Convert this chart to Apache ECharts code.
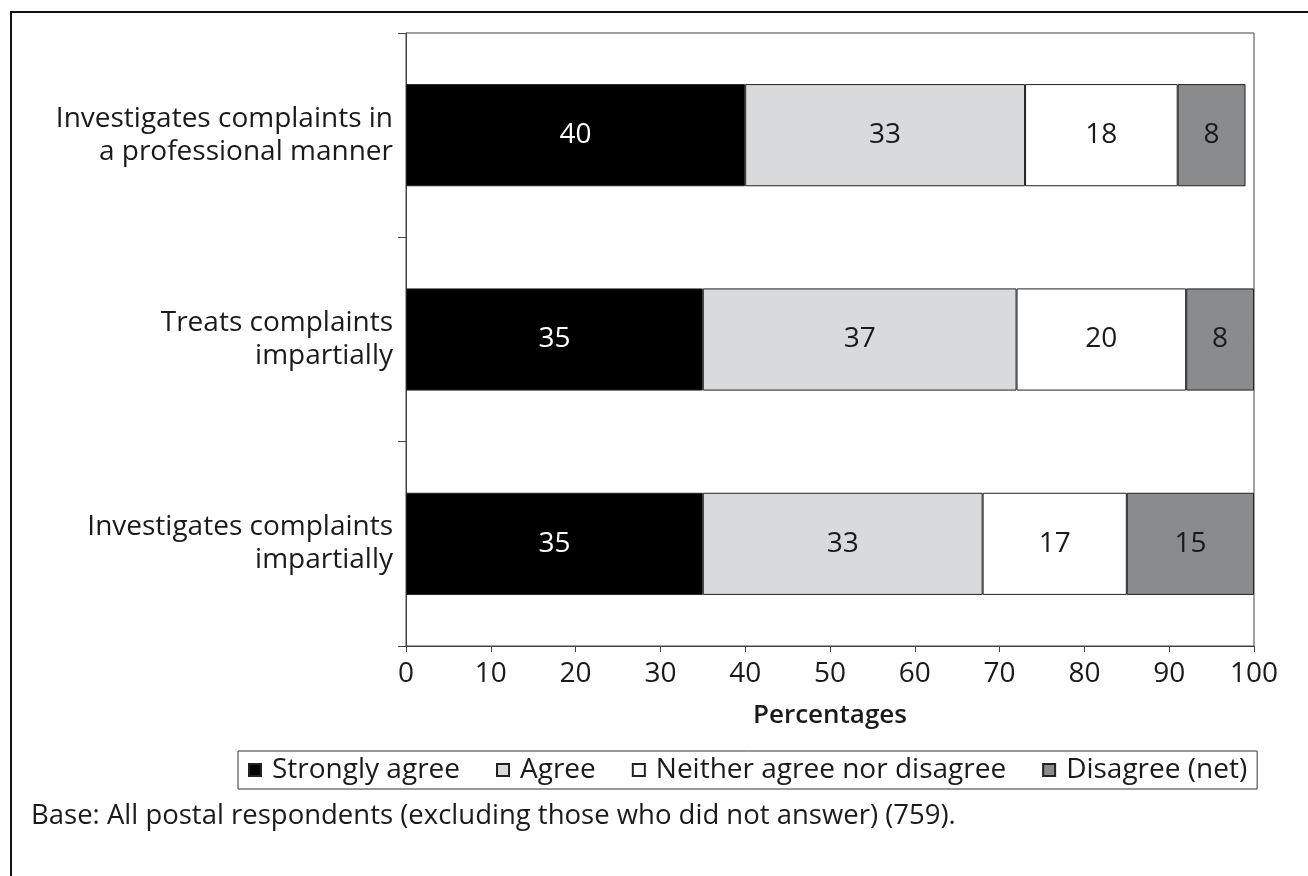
<!DOCTYPE html>
<html>
<head>
<meta charset="utf-8">
<script src="https://cdn.jsdelivr.net/npm/echarts@6/dist/echarts.min.js"></script>
<style>
  html, body { margin: 0; padding: 0; background: #fff; }
  #chart { width: 1308px; height: 876px; }
</style>
</head>
<body>
<div id="chart"></div>
<script>
// Survey statements (top to bottom)
const categories = [
  'Investigates complaints in\na professional manner',
  'Treats complaints\nimpartially',
  'Investigates complaints\nimpartially'
];
const seriesNames = ['Strongly agree', 'Agree', 'Neither agree nor disagree', 'Disagree (net)'];
const stronglyAgree = [40, 35, 35];
const agree = [33, 37, 33];
const neither = [18, 20, 17];
const disagree = [8, 8, 15];
const xTicks = [0, 10, 20, 30, 40, 50, 60, 70, 80, 90, 100];
const footnote = 'Base: All postal respondents (excluding those who did not answer) (759).';

const FONT = '"Open Sans", "Noto Sans", sans-serif';
const TEXT = '#1a1a1a';
const FS = 28;
const fills = ['#000000', '#d9dadc', '#ffffff', '#8a8b8c'];
const labelColors = ['#ffffff', TEXT, TEXT, TEXT];
const values = [stronglyAgree, agree, neither, disagree];

const chart = echarts.init(document.getElementById('chart'), null, { renderer: 'canvas' });

chart.setOption({
  animation: false,
  backgroundColor: '#ffffff',
  textStyle: { fontFamily: FONT },
  grid: {
    left: 406, right: 54, top: 33, bottom: 230,
    show: true, borderColor: '#444', borderWidth: 1, containLabel: false
  },
  legend: {
    data: seriesNames,
    left: 238, top: 751,
    orient: 'horizontal',
    icon: 'rect',
    itemWidth: 12, itemHeight: 12,
    itemGap: 36,
    padding: [0, 10, 0, 10],
    borderColor: '#333', borderWidth: 1,
    textStyle: { fontFamily: FONT, fontSize: FS, color: TEXT, lineHeight: 38, padding: [0, 0, 0, 6] },
    selectedMode: false
  },
  xAxis: {
    type: 'value',
    min: 0, max: 100, interval: 10,
    name: 'Percentages',
    nameLocation: 'middle',
    nameGap: 57,
    nameTextStyle: { fontFamily: FONT, fontSize: 26, color: TEXT, fontWeight: 600 },
    axisLine: { show: true, lineStyle: { color: '#444', width: 1 } },
    axisTick: { show: true, length: 6, lineStyle: { color: '#444' } },
    axisLabel: {
      fontFamily: FONT, fontSize: FS, color: TEXT, margin: 14,
      formatter: v => (xTicks.includes(v) ? String(v) : '')
    },
    splitLine: { show: false }
  },
  yAxis: {
    type: 'category',
    data: categories,
    inverse: true,
    axisLine: { show: true, lineStyle: { color: '#444', width: 1 } },
    axisTick: { show: true, length: 8, lineStyle: { color: '#444' } },
    axisLabel: {
      fontFamily: FONT, fontSize: FS, color: TEXT, margin: 13,
      lineHeight: 33, align: 'right'
    },
    splitLine: { show: false }
  },
  series: seriesNames.map((name, i) => ({
    name,
    type: 'bar',
    stack: 'total',
    barWidth: '50%',
    data: values[i],
    itemStyle: { color: fills[i], borderColor: '#222', borderWidth: 1 },
    label: {
      show: true,
      position: 'inside',
      fontFamily: FONT,
      fontSize: FS,
      color: labelColors[i],
      formatter: p => String(p.value)
    },
    emphasis: { disabled: true }
  })),
  graphic: [
    {
      type: 'polyline',
      shape: { points: [[11, 876], [11, 12], [1308, 12]] },
      style: { stroke: '#111', lineWidth: 2, fill: null },
      silent: true
    },
    {
      type: 'text',
      left: 31, top: 802,
      style: { text: footnote, fontFamily: FONT, fontSize: 27.5, fill: TEXT }
    }
  ]
});
</script>
</body>
</html>
